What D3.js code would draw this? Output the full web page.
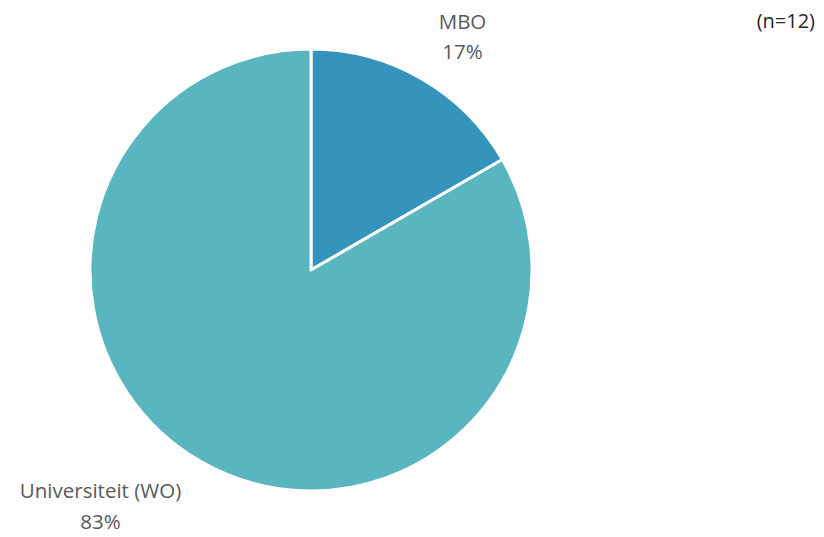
<!DOCTYPE html>
<html>
<head>
<meta charset="utf-8">
<script src="https://cdn.jsdelivr.net/npm/d3@7"></script>
<style>
  body { margin: 0; background: #fff; }
  text { font-family: "Open Sans", Lato, sans-serif; fill: #595959; }
</style>
</head>
<body>
<div id="chart"></div>
<script>
// slice data
var categories = ['MBO', 'Universiteit (WO)'];
var counts = [2, 10];
var percentLabels = ['17%', '83%'];
var sliceColors = ['#3594BB', '#59B5BF'];
var noteText = '(n=12)';

var width = 824, height = 537;
var cx = 311, cy = 270, radius = 221;

var svg = d3.select('#chart').append('svg')
    .attr('width', width)
    .attr('height', height);

var pie = d3.pie().sort(null).value(function(d) { return d; });
var arc = d3.arc().innerRadius(0).outerRadius(radius);
var labelArc = d3.arc().innerRadius(radius + 58).outerRadius(radius + 58);
// excel pushes labels sideways a bit
var labelShift = [[12, 9.6], [-71, -4.6]];

var g = svg.append('g').attr('transform', 'translate(' + cx + ',' + cy + ')');

var slices = pie(counts);

g.selectAll('path')
    .data(slices)
    .enter()
    .append('path')
    .attr('d', arc)
    .attr('fill', function(d, i) { return sliceColors[i]; })
    .attr('stroke', '#fff')
    .attr('stroke-width', 3)
    .attr('stroke-linejoin', 'round');

var lbl = g.selectAll('.lbl')
    .data(slices)
    .enter()
    .append('text')
    .attr('class', 'lbl')
    .attr('text-anchor', 'middle')
    .style('font-size', '20.5px')
    .attr('transform', function(d, i) {
        var c = labelArc.centroid(d);
        return 'translate(' + (c[0] + labelShift[i][0]) + ',' + (c[1] + labelShift[i][1]) + ')';
    });

lbl.append('tspan')
    .attr('x', 0)
    .attr('y', -9)
    .text(function(d, i) { return categories[i]; });
lbl.append('tspan')
    .attr('x', 0)
    .attr('y', 21.5)
    .text(function(d, i) { return percentLabels[i]; });

svg.append('text')
    .attr('x', 815)
    .attr('y', 28)
    .attr('text-anchor', 'end')
    .style('font-size', '20px')
    .style('fill', '#262626')
    .text(noteText);
</script>
</body>
</html>
